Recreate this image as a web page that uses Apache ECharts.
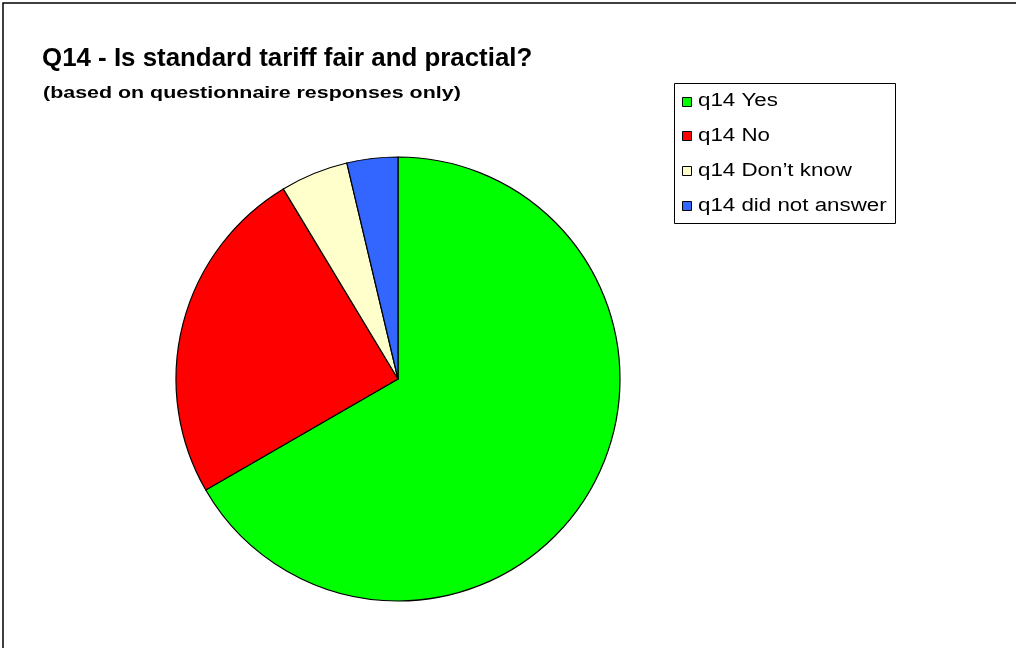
<!DOCTYPE html>
<html>
<head>
<meta charset="utf-8">
<script src="https://cdn.jsdelivr.net/npm/echarts@6/dist/echarts.min.js"></script>
<style>html,body{margin:0;padding:0;background:#fff;}#c{width:1016px;height:648px;}</style>
</head>
<body>
<div id="c"></div>
<script>
const titleText = 'Q14 - Is standard tariff fair and practial?';
const subtitleText = '(based on questionnaire responses only)';
const categories = ['q14 Yes', 'q14 No', 'q14 Don\u2019t know', 'q14 did not answer'];
const values = [54, 20, 4, 3];
const colors = ['#00FF00', '#FF0000', '#FFFFCC', '#3366FF'];

const FONT = 'Liberation Sans, Arial, sans-serif';
const legendGraphics = [];
legendGraphics.push({
  type: 'rect', silent: true,
  shape: {x: 674.5, y: 83.5, width: 221, height: 140},
  style: {fill: '#fff', stroke: '#000', lineWidth: 1}
});
categories.forEach((name, i) => {
  const cy = 101.5 + i * 34.8;
  legendGraphics.push({
    type: 'rect', silent: true,
    shape: {x: 682.5, y: Math.round(cy - 5) + 0.5, width: 9, height: 9},
    style: {fill: colors[i], stroke: '#000', lineWidth: 1}
  });
  legendGraphics.push({
    type: 'text', silent: true,
    x: 698, y: cy, scaleX: 1.24,
    style: {text: name, fontFamily: FONT, fontSize: 18, fill: '#000', align: 'left', verticalAlign: 'middle'}
  });
});

const chart = echarts.init(document.getElementById('c'), null, {renderer: 'canvas'});
chart.setOption({
  animation: false,
  backgroundColor: '#ffffff',
  graphic: [{
    type: 'rect', silent: true,
    shape: {x: 3, y: 3, width: 1040, height: 680},
    style: {fill: 'none', stroke: '#000', lineWidth: 1.5}
  }, {
    type: 'text', silent: true,
    x: 42, y: 59, scaleX: 1.035,
    style: {text: titleText, fontFamily: FONT, fontSize: 25, fontWeight: 'bold', fill: '#000', align: 'left', verticalAlign: 'middle'}
  }, {
    type: 'text', silent: true,
    x: 43, y: 93, scaleX: 1.26,
    style: {text: subtitleText, fontFamily: FONT, fontSize: 17, fontWeight: 'bold', fill: '#000', align: 'left', verticalAlign: 'middle'}
  }].concat(legendGraphics),
  series: [{
    type: 'pie',
    center: [398, 379],
    radius: 222,
    startAngle: 90,
    clockwise: true,
    label: {show: false},
    labelLine: {show: false},
    itemStyle: {borderColor: '#000', borderWidth: 1.2},
    emphasis: {disabled: true},
    data: categories.map((n, i) => ({name: n, value: values[i], itemStyle: {color: colors[i]}}))
  }]
});
</script>
</body>
</html>
